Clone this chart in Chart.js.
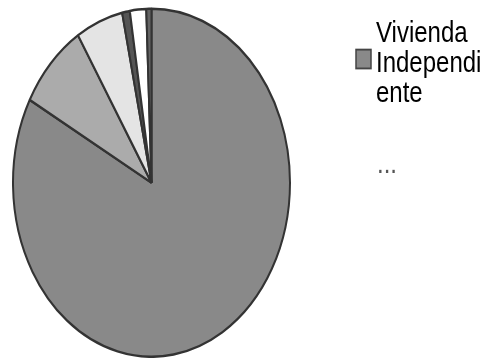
<!DOCTYPE html>
<html>
<head>
<meta charset="utf-8">
<script src="https://cdn.jsdelivr.net/npm/chart.js@4/dist/chart.umd.min.js"></script>
<style>
  html, body { margin: 0; padding: 0; background: #fff; overflow: hidden; }
</style>
</head>
<body>
<canvas id="c" width="483" height="358"></canvas>
<script>
// slices clockwise from 12 o'clock, share of the total in %
const categories = ['Vivienda Independiente', '', '', '', '', ''];
const shares = [82.9, 8.2, 5.5, 0.9, 1.9, 0.6];
const sliceColors = ['#898989', '#ababab', '#e4e4e4', '#555555', '#ffffff', '#646464'];

// legend as printed (wrapped by the original program), then the truncation mark
const legendLines = ['Vivienda', 'Independi', 'ente'];
const legendMore = '...';

// the source picture is stretched vertically: pie is an ellipse, text is tall
const STRETCH_Y = 1.2561;

const stretchAndLegend = {
  id: 'stretchAndLegend',
  beforeDraw(chart) {
    chart.ctx.save();
    chart.ctx.scale(1, STRETCH_Y);
  },
  afterDraw(chart) {
    const ctx = chart.ctx;
    // swatch next to the middle line
    ctx.fillStyle = sliceColors[0];
    ctx.strokeStyle = '#444';
    ctx.lineWidth = 1.5;
    ctx.fillRect(356, 39.5, 15, 15);
    ctx.strokeRect(356, 39.5, 15, 15);

    ctx.fillStyle = '#000';
    ctx.font = "24px 'Liberation Sans', Arial, sans-serif";
    ctx.textBaseline = 'alphabetic';
    ctx.textAlign = 'left';
    legendLines.forEach((t, i) => ctx.fillText(t, 376, 33.5 + i * 24));
    ctx.fillStyle = '#555';
    ctx.fillText(legendMore, 377, 138);
    ctx.restore();
  },
};

new Chart(document.getElementById('c'), {
  type: 'pie',
  data: {
    labels: categories,
    datasets: [{
      data: shares,
      backgroundColor: sliceColors,
      borderColor: '#333',
      borderWidth: 2,
    }],
  },
  options: {
    responsive: false,
    animation: false,
    events: [],
    layout: { padding: { left: 12, right: 192, top: 6, bottom: 73 } },
    plugins: {
      legend: { display: false },
      tooltip: { enabled: false },
    },
  },
  plugins: [stretchAndLegend],
});
</script>
</body>
</html>
